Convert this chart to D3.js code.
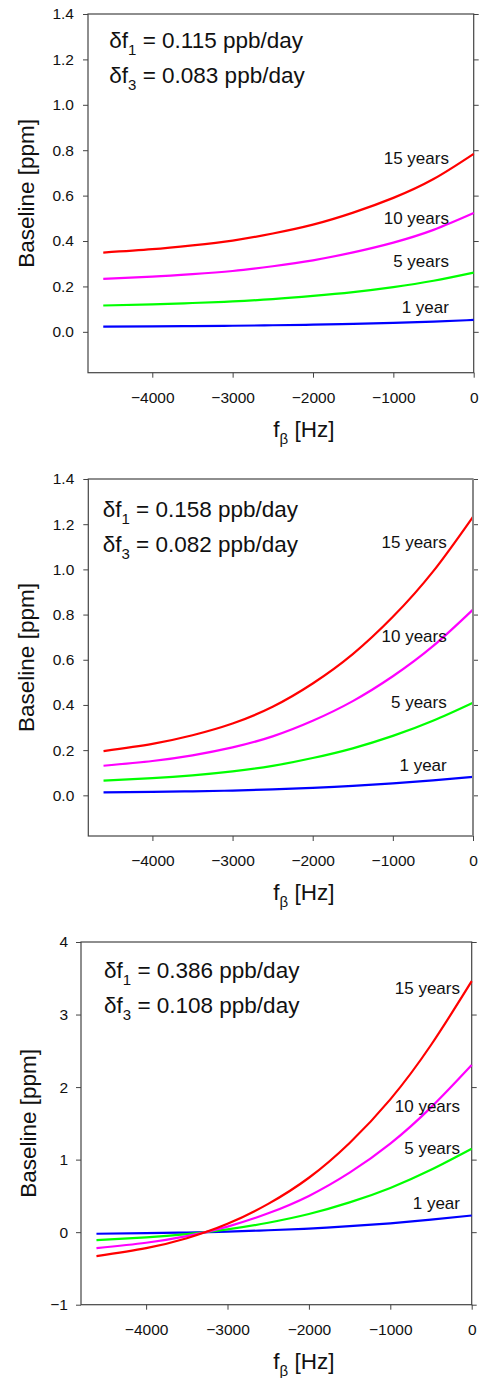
<!DOCTYPE html>
<html>
<head>
<meta charset="utf-8">
<script src="https://cdn.jsdelivr.net/npm/d3@7"></script>
<style>
  html, body { margin: 0; padding: 0; background: #fff; }
  svg { display: block; font-family: "Liberation Sans", Arial, sans-serif; }
</style>
</head>
<body>
<svg id="chart" width="485" height="1378"></svg>
<script>
// ---------- data ----------
const freqHz = [-4610, -4000, -3500, -3000, -2500, -2000, -1500, -1000, -500, 0];
const seriesNames = ["1 year", "5 years", "10 years", "15 years"];
const seriesColors = ["#0000ff", "#00ff00", "#ff00ff", "#ff0000"];

// panel 1: df1 = 0.115, df3 = 0.083
const p1_1yr  = [0.0233, 0.0243, 0.0254, 0.0268, 0.0289, 0.0315, 0.035, 0.0393, 0.0449, 0.0523];
const p1_5yr  = [0.116, 0.121, 0.127, 0.134, 0.144, 0.158, 0.175, 0.197, 0.225, 0.261];
const p1_10yr = [0.233, 0.243, 0.254, 0.268, 0.289, 0.315, 0.350, 0.393, 0.449, 0.523];
const p1_15yr = [0.349, 0.364, 0.381, 0.402, 0.433, 0.472, 0.525, 0.590, 0.673, 0.784];

// panel 2: df1 = 0.158, df3 = 0.082
const p2_1yr  = [0.013, 0.0152, 0.0177, 0.0212, 0.0261, 0.033, 0.0417, 0.0527, 0.066, 0.082];
const p2_5yr  = [0.065, 0.076, 0.0885, 0.106, 0.1305, 0.165, 0.208, 0.263, 0.330, 0.410];
const p2_10yr = [0.131, 0.152, 0.177, 0.212, 0.261, 0.330, 0.417, 0.527, 0.660, 0.822];
const p2_15yr = [0.196, 0.228, 0.266, 0.318, 0.392, 0.495, 0.625, 0.790, 0.990, 1.233];

// panel 3: df1 = 0.386, df3 = 0.108
const p3_1yr  = [-0.022, -0.0145, -0.0055, 0.008, 0.026, 0.050, 0.082, 0.122, 0.172, 0.230];
const p3_5yr  = [-0.110, -0.073, -0.028, 0.038, 0.130, 0.250, 0.410, 0.610, 0.860, 1.150];
const p3_10yr = [-0.220, -0.146, -0.055, 0.077, 0.260, 0.500, 0.820, 1.220, 1.720, 2.305];
const p3_15yr = [-0.330, -0.220, -0.083, 0.115, 0.390, 0.750, 1.230, 1.830, 2.580, 3.460];

const xTicks = [-4000, -3000, -2000, -1000, 0];
const p12_yTicks = [0.0, 0.2, 0.4, 0.6, 0.8, 1.0, 1.2, 1.4];
const p3_yTicks = [-1, 0, 1, 2, 3, 4];

const annot1 = ["0.115", "0.083"];
const annot2 = ["0.158", "0.082"];
const annot3 = ["0.386", "0.108"];

// curve-label anchor points (Hz, ppm) for each panel, order as seriesNames
const lab1_x = [-308, -308, -308, -308];
const lab1_y = [0.085, 0.285, 0.474, 0.739];
const lab2_x = [-328, -328, -328, -328];
const lab2_y = [0.108, 0.3845, 0.68, 1.094];
const lab3_x = [-144, -144, -144, -144];
const lab3_y = [0.323, 1.083, 1.657, 3.279];

// ---------- layout ----------
const panels = [
  { left: 88, right: 473.7, top: 14, bottom: 372.7, yDomain: [-0.18, 1.4], yTicks: p12_yTicks, yFmt: d3.format(".1f"), tickPad: 9,
    series: [p1_1yr, p1_5yr, p1_10yr, p1_15yr], annot: annot1, annotX: 109.3, annotY: 47.7, labX: lab1_x, labY: lab1_y, yLabelX: 34.3, greyRight: false },
  { left: 88.3, right: 473, top: 479, bottom: 836, yDomain: [-0.18, 1.4], yTicks: p12_yTicks, yFmt: d3.format(".1f"), tickPad: 9,
    series: [p2_1yr, p2_5yr, p2_10yr, p2_15yr], annot: annot2, annotX: 102.7, annotY: 517.3, labX: lab2_x, labY: lab2_y, yLabelX: 34.3, greyRight: true },
  { left: 81, right: 471.7, top: 942, bottom: 1304.7, yDomain: [-1, 4], yTicks: p3_yTicks, yFmt: d3.format("d"), tickPad: 8,
    series: [p3_1yr, p3_5yr, p3_10yr, p3_15yr], annot: annot3, annotX: 104, annotY: 978, labX: lab3_x, labY: lab3_y, yLabelX: 35.5, greyRight: false }
];

const svg = d3.select("#chart");
const frameColor = "#444";
const textColor = "#111";

panels.forEach(p => {
  const g = svg.append("g");
  const x = d3.scaleLinear().domain([-4800, 0]).range([p.left, p.right]);
  const y = d3.scaleLinear().domain(p.yDomain).range([p.bottom, p.top]);

  // axes
  const axL = g.append("g").attr("transform", `translate(${p.left},0)`)
    .call(d3.axisLeft(y).tickValues(p.yTicks).tickSize(5).tickSizeOuter(0).tickPadding(p.tickPad).tickFormat(p.yFmt));
  const axR = g.append("g").attr("transform", `translate(${p.right},0)`)
    .call(d3.axisRight(y).tickValues(p.yTicks).tickSize(5).tickSizeOuter(0).tickFormat(""));
  const axB = g.append("g").attr("transform", `translate(0,${p.bottom})`)
    .call(d3.axisBottom(x).tickValues(xTicks).tickSize(5).tickSizeOuter(0).tickPadding(14).tickFormat(d3.format("d")));
  [axL, axR, axB].forEach(a => {
    a.select(".domain").remove();
    a.selectAll("line").attr("stroke", frameColor).attr("stroke-width", 1);
    a.selectAll("text").attr("fill", textColor).attr("font-size", 15.5)
      .attr("font-family", "'Liberation Sans', Arial, sans-serif");
  });

  // frame
  g.append("rect").attr("x", p.left).attr("y", p.top)
    .attr("width", p.right - p.left).attr("height", p.bottom - p.top)
    .attr("fill", "none").attr("stroke", frameColor).attr("stroke-width", 1.2);

  // lines
  const line = d3.line().x((d, i) => x(freqHz[i])).y(d => y(d)).curve(d3.curveNatural);
  p.series.forEach((s, k) => {
    g.append("path").datum(s).attr("d", line)
      .attr("fill", "none").attr("stroke", seriesColors[k]).attr("stroke-width", 2.2);
  });

  if (p.greyRight) {
    g.append("line").attr("x1", p.right).attr("x2", p.right).attr("y1", p.top).attr("y2", p.bottom)
      .attr("stroke", "#888").attr("stroke-width", 2);
  }

  // curve labels
  seriesNames.forEach((name, k) => {
    g.append("text").attr("x", x(p.labX[k])).attr("y", y(p.labY[k]))
      .attr("text-anchor", "end").attr("font-size", 17).attr("fill", textColor).text(name);
  });

  // annotation
  p.annot.forEach((val, j) => {
    const t = g.append("text").attr("x", p.annotX).attr("y", p.annotY + j * 35)
      .attr("font-size", 22.5).attr("fill", textColor);
    t.append("tspan").text("\u03B4f");
    t.append("tspan").attr("font-size", 15).attr("dy", 7).text(j === 0 ? "1" : "3");
    t.append("tspan").attr("dy", -7).text(" = " + val + " ppb/day");
  });

  // y label
  const cy = (p.top + p.bottom) / 2;
  g.append("text").attr("transform", `translate(${p.yLabelX},${cy}) rotate(-90)`)
    .attr("text-anchor", "middle").attr("font-size", 22.5).attr("fill", textColor).text("Baseline [ppm]");

  // x label
  const xl = g.append("text").attr("x", 273.3).attr("y", p.bottom + 64)
    .attr("font-size", 22.5).attr("fill", textColor);
  xl.append("tspan").text("f");
  xl.append("tspan").attr("font-size", 15).attr("dy", 7).text("\u03B2");
  xl.append("tspan").attr("dy", -7).text(" [Hz]");
});
</script>
</body>
</html>
